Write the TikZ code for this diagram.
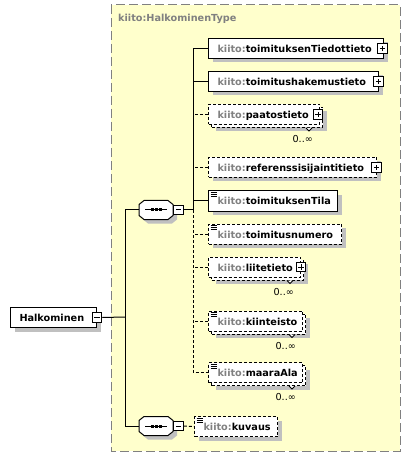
\documentclass[tikz,border=0pt]{standalone}
\usepackage{fontspec}
\setmainfont{DejaVu Sans}
\usetikzlibrary{shadows}
\definecolor{bgyellow}{RGB}{255,255,204}
\definecolor{nsgray}{RGB}{128,128,128}
\definecolor{shadowc}{RGB}{192,192,192}
\newcommand{\kt}{\textcolor{nsgray}{kiito:}}
\newcommand{\el}[1]{\mbox{\kt#1}}
\tikzset{
  lbl/.style={font=\fontsize{9.7bp}{11bp}\selectfont\bfseries, text height=8bp, text depth=0bp},
  cnt/.style={font=\fontsize{9.6bp}{10bp}\selectfont, inner sep=0pt},
  elem/.style={lbl, draw, fill=white, line width=1bp, anchor=north west, minimum height=20bp, inner xsep=9bp, inner ysep=0pt, align=left},
  optl/.style={dash pattern=on 3bp off 2bp},
  conn/.style={line width=1bp},
  shad/.style={drop shadow={shadow xshift=4bp, shadow yshift=-4bp, fill=shadowc, opacity=1}},
  multi/.style={drop shadow={shadow xshift=7bp, shadow yshift=-7bp, fill=shadowc, opacity=1},
                copy shadow={shadow xshift=3bp, shadow yshift=-3bp, draw=black, fill=white, dash pattern=on 3bp off 2bp}},
  simple/.style={path picture={
     \foreach \d in {1.5,3.5,5.5}
       \draw[line width=0.8bp, solid] ([xshift=2bp, yshift=-\d bp]path picture bounding box.north west) -- ++(6bp,0bp);}},
  minusbox/.style={draw, solid, fill=white, line width=1bp, minimum size=9.5bp, inner sep=0pt,
     path picture={\draw[line width=1bp] ([xshift=2bp]path picture bounding box.west) -- ([xshift=-2bp]path picture bounding box.east);}},
  plusbox/.style={draw, solid, fill=white, line width=1bp, minimum size=9.5bp, inner sep=0pt,
     path picture={\draw[line width=1bp] ([xshift=2bp]path picture bounding box.west) -- ([xshift=-2bp]path picture bounding box.east);
                   \draw[line width=1bp] ([yshift=2bp]path picture bounding box.south) -- ([yshift=-2bp]path picture bounding box.north);}},
  notch/.style={line width=0.8bp, fill=white},
  pics/seqc/.style={code={
     \fill[shadowc, shift={(4,4)}] (-12,-9.5) -- (12,-9.5) -- (17,-5.5) -- (17,5.5) -- (12,9.5) -- (-12,9.5) -- (-17,5.5) -- (-17,-5.5) -- cycle;
     \draw[line width=1bp, fill=white] (-12,-9.5) -- (12,-9.5) -- (17,-5.5) -- (17,5.5) -- (12,9.5) -- (-12,9.5) -- (-17,5.5) -- (-17,-5.5) -- cycle;
     \node[inner sep=0pt, minimum width=34bp, minimum height=19bp] (-box) at (0,0) {};
     \draw[line width=1bp] (-11,0) -- (11,0);
     \fill (-5.5,-1.5) rectangle ++(3,3);
     \fill (-1.5,-1.5) rectangle ++(3,3);
     \fill (2.5,-1.5) rectangle ++(3,3);
  }}
}
\begin{document}
\begin{tikzpicture}[x=1bp, y=-1bp]
\useasboundingbox (0,0) rectangle (411,457);
\fill[white] (0,0) rectangle (411,457);
% complex type frame
\draw[draw=nsgray, line width=1bp, fill=bgyellow, dash pattern=on 9bp off 4bp] (111,5) rectangle (400,451);
\node[lbl, text=nsgray, anchor=base west, inner sep=0pt] (title) at (118,22) {kiito:HalkominenType};

% coordinates of the branch lines
\coordinate (j0) at (125,317);
\coordinate (s1) at (193,210);

% root
\node[elem, shad, text width=68bp] (root) at (10,307) {Halkominen};
\node[minusbox] (rootm) at (root.east) {};

% compositors
\pic (seq1) at (156,210) {seqc};
\node[minusbox] (seq1m) at (178.7,210) {};
\pic (seq2) at (156,426) {seqc};
\node[minusbox] (seq2m) at (178.7,426) {};

% children of first sequence
\node[elem, shad, text width=157bp] (c1) at (208,38) {\el{toimituksenTiedottieto}};
\node[elem, shad, text width=152bp] (c2) at (208,71) {\el{toimitushakemustieto}};
\node[elem, optl, multi, text width=93bp] (c3) at (208,104) {\el{paatostieto}};
\node[elem, optl, shad, text width=150bp] (c4) at (208,157) {\el{referenssisijaintitieto}};
\node[elem, shad, simple, text width=111bp] (c5) at (208,190.5) {\el{toimituksenTila}};
\node[elem, optl, shad, simple, text width=115bp] (c6) at (208,223.5) {\el{toimitusnumero}};
\node[elem, optl, multi, text width=74bp] (c7) at (208,256.5) {\el{liitetieto}};
\node[elem, optl, multi, simple, text width=76bp] (c8) at (208,310.5) {\el{kiinteisto}};
\node[elem, optl, multi, simple, text width=76bp] (c9) at (208,362) {\el{maaraAla}};
\node[elem, optl, shad, simple, text width=65bp] (kuv) at (194,416) {\el{kuvaus}};

% expand boxes
\node[plusbox] (c1p) at ([xshift=-1.5bp]c1.east) {};
\node[plusbox] (c2p) at ([xshift=-0.5bp]c2.east) {};
\node[plusbox] (c3p) at ([xshift=-2bp]c3.east) {};
\node[plusbox] (c4p) at ([xshift=-0.5bp]c4.east) {};
\node[plusbox] (c7p) at ([xshift=0bp]c7.east) {};

% multiplicity notches and labels
\foreach \n in {c3,c7,c8,c9}{
  \draw[notch] ([xshift=-14bp, yshift=-3bp]\n.south east) -- ++(3,3) -- ++(3,-3);
  \node[cnt, anchor=base east] (\n m) at ([xshift=-7bp, yshift=-17.5bp]\n.south east) {0..∞};
}

% connectors
\draw[conn] (rootm.east) -- (j0);
\draw[conn] (j0) |- (seq1-box.west);
\draw[conn] (j0) |- (seq2-box.west);
\draw[conn] (seq1m.east) -- (s1);
\draw[conn] (s1) |- (c1.west);
\draw[conn] (c2.west) -- (c2.west -| s1);
\draw[conn, optl] (c3.west) -- (c3.west -| s1);
\draw[conn, optl] (c4.west) -- (c4.west -| s1);
\draw[conn] (c5.west) -- (c5.west -| s1);
\draw[conn, optl] (s1) |- (c9.west);
\draw[conn, optl] (c6.west) -- (c6.west -| s1);
\draw[conn, optl] (c7.west) -- (c7.west -| s1);
\draw[conn, optl] (c8.west) -- (c8.west -| s1);
\draw[conn, optl] (seq2m.east) -- (kuv.west);
\end{tikzpicture}
\end{document}
